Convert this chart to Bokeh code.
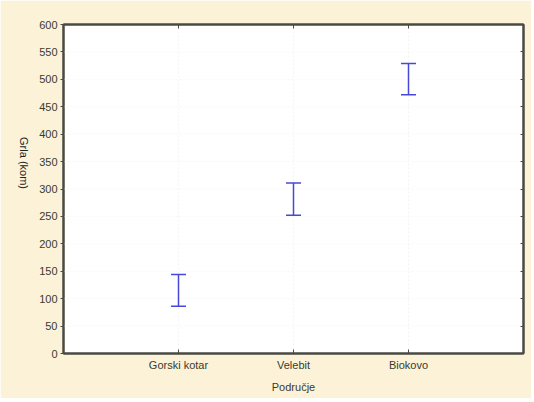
import math
from bokeh.plotting import figure
from bokeh.models import (Range1d, FixedTicker, LinearAxis, Whisker, TeeHead,
                          ColumnDataSource)
from bokeh.embed import file_html
from bokeh.resources import INLINE

categories = ["Gorski kotar", "Velebit", "Biokovo"]
lower = [86, 252, 472]
upper = [144, 311, 529]
y_ticks = [0, 50, 100, 150, 200, 250, 300, 350, 400, 450, 500, 550, 600]
x_title = "Područje"
y_title = "Grla (kom)"

BG = "#fcf2d8"
TXT = "#3a3a2e"
BLUE = "#4848d8"
FONT = "Liberation Sans"

xpos = [i + 1 for i in range(len(categories))]
src = ColumnDataSource(dict(x=xpos, lower=lower, upper=upper))

p = figure(width=531, height=398, x_range=Range1d(0, len(categories) + 1),
           y_range=Range1d(0, 600), output_backend="svg", toolbar_location=None,
           min_border_left=63, min_border_right=8, min_border_top=24,
           min_border_bottom=45, background_fill_color="white",
           border_fill_color=BG, outline_line_color="#4a4a44",
           outline_line_width=2, x_axis_location=None, y_axis_location=None)

def style(ax):
    ax.axis_line_color = "#4a4a44"
    ax.axis_line_width = 2
    ax.major_tick_line_color = "#4a4a44"
    ax.major_tick_line_width = 1
    ax.minor_tick_line_color = None
    ax.major_label_text_font = FONT
    ax.major_label_text_font_size = "11px"
    ax.major_label_text_color = TXT
    ax.axis_label_text_font = FONT
    ax.axis_label_text_font_size = "11px"
    ax.axis_label_text_font_style = "normal"
    ax.axis_label_text_color = TXT

xb = LinearAxis(ticker=FixedTicker(ticks=xpos),
                major_label_overrides={x: c for x, c in zip(xpos, categories)},
                axis_label=x_title)
style(xb)
xb.major_tick_in = 4
xb.major_tick_out = 0
xb.major_label_standoff = 5
xb.axis_label_standoff = 7
p.add_layout(xb, "below")

xt = LinearAxis(ticker=FixedTicker(ticks=xpos),
                major_label_overrides={x: "" for x in xpos})
style(xt)
xt.major_tick_in = 4
xt.major_tick_out = 0
p.add_layout(xt, "above")

yl = LinearAxis(ticker=FixedTicker(ticks=y_ticks), axis_label=y_title)
style(yl)
yl.major_tick_in = 0
yl.major_tick_out = 3
yl.major_label_standoff = 3
yl.axis_label_standoff = 12
yl.axis_label_text_color = "#222222"
try:
    yl.axis_label_orientation = -math.pi / 2
except Exception:
    pass
p.add_layout(yl, "left")

yr = LinearAxis(ticker=FixedTicker(ticks=y_ticks),
                major_label_overrides={t: "" for t in y_ticks})
style(yr)
yr.major_tick_in = 3
yr.major_tick_out = 0
p.add_layout(yr, "right")

p.xgrid.visible = False
p.ygrid.visible = False
p.segment(x0=xpos, y0=[0] * len(xpos), x1=xpos, y1=[600] * len(xpos),
          line_color="#f3f3f3", line_width=1, line_dash="2 2", level="underlay")
p.segment(x0=[0] * len(y_ticks), y0=y_ticks, x1=[len(categories) + 1] * len(y_ticks),
          y1=y_ticks, line_color="#f6f6f6", line_width=1, line_dash="2 2",
          level="underlay")

w = Whisker(source=src, base="x", lower="lower", upper="upper",
            dimension="height", line_color=BLUE, line_width=1.5,
            line_dash="solid", level="overlay",
            upper_head=TeeHead(size=15, line_color=BLUE, line_width=1.5),
            lower_head=TeeHead(size=15, line_color=BLUE, line_width=1.5))
p.add_layout(w)

open("out.html", "w").write(file_html(p, INLINE))
